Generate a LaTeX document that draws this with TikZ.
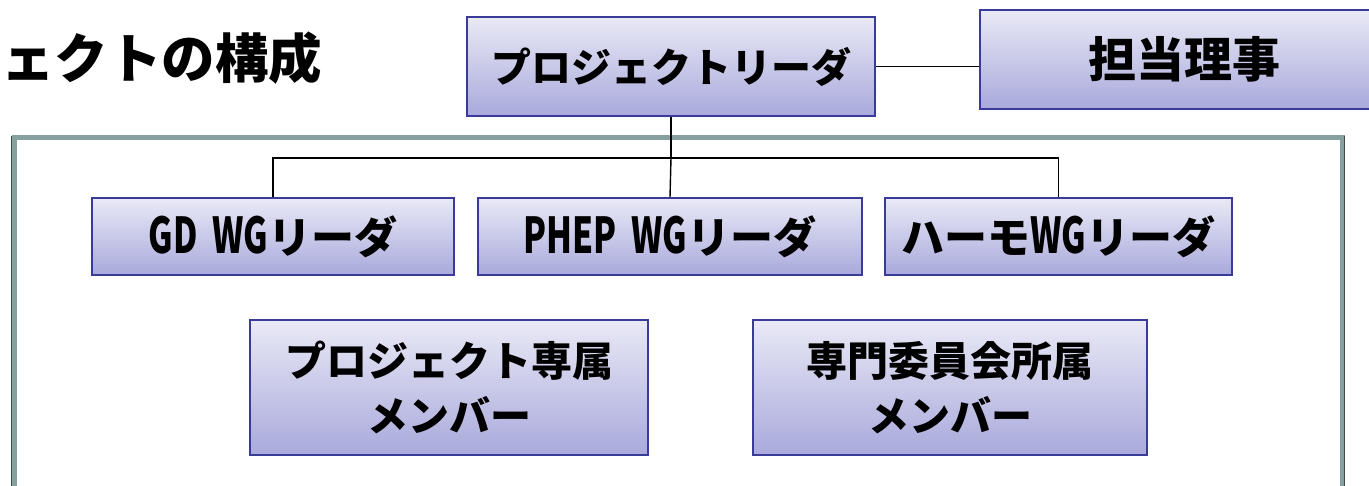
\documentclass[tikz,border=0pt]{standalone}
\usepackage{fontspec}
\newfontfamily\jp{Noto Sans CJK JP}
\definecolor{boxedge}{HTML}{3A3A98}
\definecolor{boxtop}{HTML}{E9E9F6}
\definecolor{boxbot}{HTML}{A9A9DC}
\definecolor{frameC}{HTML}{86A0A0}
\definecolor{frameD}{HTML}{3C4C4C}
\newcommand{\lat}[1]{\scalebox{0.78}[1.15]{#1}}
\tikzset{
  orgbox/.style={draw=boxedge, line width=1.8pt, top color=boxtop, bottom color=boxbot,
    inner sep=0pt, align=center, font=\jp\bfseries\fontsize{39}{53}\selectfont},
  conn/.style={draw=black, line width=1.4pt},
}
\begin{document}
\begin{tikzpicture}[x=1pt,y=-1pt]
\clip (0,0) rectangle (1369,486);
\fill[white] (0,0) rectangle (1369,486);
% frame
\draw[frameC, line width=5pt] (14,138) rectangle (1342,540);
\draw[frameD, line width=1.6pt] (11.5,136) -- (11.5,540);
\draw[frameD, line width=1.6pt] (1344.5,136) -- (1344.5,540);
% title
\node[anchor=west, inner sep=0pt, font=\jp\bfseries\fontsize{53.5}{60}\selectfont] (title) at (1,58) {ェクトの構成};
% boxes
\node[orgbox, minimum width=408, minimum height=99, font=\jp\bfseries\fontsize{40}{53}\selectfont] (pl) at (671,66.5) {プロジェクトリーダ};
\node[orgbox, minimum width=396, minimum height=99, font=\jp\bfseries\fontsize{48}{53}\selectfont] (ri) at (1178,59.5) {\hspace*{12pt}担当理事};
\node[orgbox, minimum width=362, minimum height=77, font=\jp\bfseries\fontsize{43}{53}\selectfont] (gd) at (273,236.5) {\lat{GD\hspace{0.45em}WG}リーダ};
\node[orgbox, minimum width=384, minimum height=77, font=\jp\bfseries\fontsize{43}{53}\selectfont] (ph) at (670,236.5) {\lat{PHEP\hspace{0.45em}WG}リーダ};
\node[orgbox, minimum width=347, minimum height=77, font=\jp\bfseries\fontsize{43}{53}\selectfont] (ha) at (1058.5,236.5) {ハーモ\lat{WG}リーダ};
\node[orgbox, minimum width=398, minimum height=135, font=\jp\bfseries\fontsize{41}{55}\selectfont] (m1) at (449,387.5) {プロジェクト専属\\メンバー};
\node[orgbox, minimum width=394, minimum height=135, font=\jp\bfseries\fontsize{41}{55}\selectfont] (m2) at (950,387.5) {専門委員会所属\\メンバー};
% connectors
\coordinate (bus) at (671,158);
\draw[conn] (pl.east) -- (ri.west |- pl.east);
\draw[conn] (pl.south) -- (bus);
\draw[conn] (bus) -| (gd.north);
\draw[conn] (bus) -| (ha.north);
\draw[conn] (bus) -- (ph.north);
\end{tikzpicture}
\end{document}
